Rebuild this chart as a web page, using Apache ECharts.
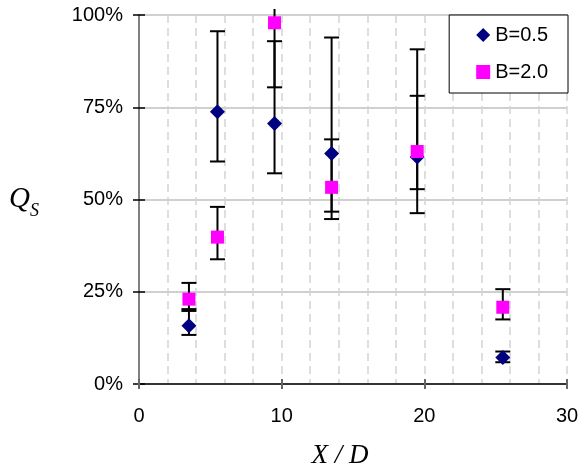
<!DOCTYPE html>
<html>
<head>
<meta charset="utf-8">
<script src="https://cdn.jsdelivr.net/npm/echarts@6/dist/echarts.min.js"></script>
<style>html,body{margin:0;padding:0;background:#fff}#c{width:579px;height:465px}</style>
</head>
<body>
<div id="c"></div>
<script>
const xValues = [3.5, 5.5, 9.5, 13.5, 19.5, 25.5];
const b05 = [0.158, 0.738, 0.706, 0.625, 0.615, 0.072];
const b05Low = [0.133, 0.603, 0.571, 0.447, 0.463, 0.059];
const b05High = [0.203, 0.956, 0.929, 0.939, 0.907, 0.088];
const b20 = [0.230, 0.398, 0.979, 0.533, 0.630, 0.208];
const b20Low = [0.198, 0.338, 0.804, 0.467, 0.528, 0.175];
const b20High = [0.274, 0.480, 1.10, 0.663, 0.781, 0.257];
const seriesNames = ['B=0.5', 'B=2.0'];
const yTicks = [0, 0.25, 0.5, 0.75, 1.0];

const chart = echarts.init(document.getElementById('c'), null, {renderer: 'canvas'});
const FONT = 'Liberation Sans, Arial, sans-serif';
const SERIF = 'Liberation Serif, Times New Roman, serif';

function errData(lo, hi) { return xValues.map((x, i) => [x, lo[i], hi[i]]); }

function renderErr(params, api) {
  const x = api.value(0);
  const pLo = api.coord([x, api.value(1)]);
  const pHi = api.coord([x, api.value(2)]);
  const cs = params.coordSys;
  const topLimit = cs.y - 6;
  const clipped = pHi[1] < topLimit;
  const yHi = clipped ? topLimit : pHi[1];
  const hw = 7.5;
  const st = {stroke: '#000', lineWidth: 2};
  const children = [
    {type: 'line', shape: {x1: pLo[0], y1: pLo[1], x2: pLo[0], y2: yHi}, style: st},
    {type: 'line', shape: {x1: pLo[0] - hw, y1: pLo[1], x2: pLo[0] + hw, y2: pLo[1]}, style: st}
  ];
  if (!clipped) children.push({type: 'line', shape: {x1: pHi[0] - hw, y1: pHi[1], x2: pHi[0] + hw, y2: pHi[1]}, style: st});
  return {type: 'group', children};
}

const option = {
  animation: false,
  backgroundColor: '#fff',
  grid: {left: 139, right: 12, top: 15, bottom: 81, containLabel: false, outerBoundsMode: 'none'},
  legend: {
    data: [
      {name: seriesNames[0], icon: 'diamond'},
      {name: seriesNames[1], icon: 'rect'}
    ],
    orient: 'vertical', right: 11, top: 15,
    padding: [10, 20, 11, 27], itemGap: 17, itemWidth: 14, itemHeight: 14,
    borderColor: '#000', borderWidth: 1, backgroundColor: '#fff',
    textStyle: {fontFamily: FONT, fontSize: 20, color: '#000'}
  },
  xAxis: [{
    type: 'value', min: 0, max: 30, interval: 10,
    name: 'X / D', nameLocation: 'middle', nameGap: 58,
    nameTextStyle: {fontFamily: SERIF, fontStyle: 'italic', fontSize: 27, color: '#000', padding: [0, 26, 0, 0]},
    axisLine: {show: true, lineStyle: {color: '#000', width: 1.5}},
    axisTick: {show: true, length: 5, lineStyle: {color: '#666', width: 2}},
    axisLabel: {fontFamily: FONT, fontSize: 20, color: '#000', margin: 22},
    splitLine: {show: true, lineStyle: {color: '#d4d4d4', type: [8, 5], width: 1.5}},
    minorTick: {show: false, splitNumber: 5},
    minorSplitLine: {show: true, lineStyle: {color: '#d4d4d4', type: [8, 5], width: 1.5}}
  }, {
    type: 'value', min: 0, max: 30, interval: 10, position: 'bottom',
    axisLine: {show: false}, axisLabel: {show: false}, splitLine: {show: false},
    axisTick: {show: true, inside: true, length: 5, lineStyle: {color: '#666', width: 2}}
  }],
  yAxis: [{
    type: 'value', min: 0, max: 1, interval: 0.25,
    name: '{q|Q}{s|S}', nameLocation: 'middle', nameRotate: 0, nameGap: 100,
    nameTextStyle: {
      rich: {
        q: {fontFamily: SERIF, fontStyle: 'italic', fontSize: 29, color: '#000', lineHeight: 32},
        s: {fontFamily: SERIF, fontStyle: 'italic', fontSize: 18, color: '#000', lineHeight: 32, verticalAlign: 'bottom', padding: [0, 0, -5, 0]}
      }
    },
    axisLine: {show: true, lineStyle: {color: '#808080', width: 2}},
    axisTick: {show: true, length: 6, lineStyle: {color: '#000', width: 1.5}},
    axisLabel: {fontFamily: FONT, fontSize: 20, color: '#000', margin: 16,
      formatter: v => Math.round(v * 100) + '%'},
    splitLine: {show: true, lineStyle: {color: '#c0c0c0', width: 1.5}}
  }, {
    type: 'value', min: 0, max: 1, interval: 0.25, position: 'left',
    axisLine: {show: false}, axisLabel: {show: false}, splitLine: {show: false},
    axisTick: {show: true, inside: true, length: 6, lineStyle: {color: '#000', width: 1.5}}
  }],
  series: [
    {type: 'custom', name: 'err05', data: errData(b05Low, b05High), renderItem: renderErr, z: 1, silent: true},
    {type: 'custom', name: 'err20', data: errData(b20Low, b20High), renderItem: renderErr, z: 1, silent: true},
    {type: 'scatter', name: seriesNames[0], data: xValues.map((x, i) => [x, b05[i]]),
      symbol: 'diamond', symbolSize: [15, 15], itemStyle: {color: '#000080', opacity: 1}, z: 3},
    {type: 'scatter', name: seriesNames[1], data: xValues.map((x, i) => [x, b20[i]]),
      symbol: 'rect', symbolSize: [13, 13], itemStyle: {color: '#ff00ff', opacity: 1}, z: 4}
  ]
};
chart.setOption(option);
</script>
</body>
</html>
